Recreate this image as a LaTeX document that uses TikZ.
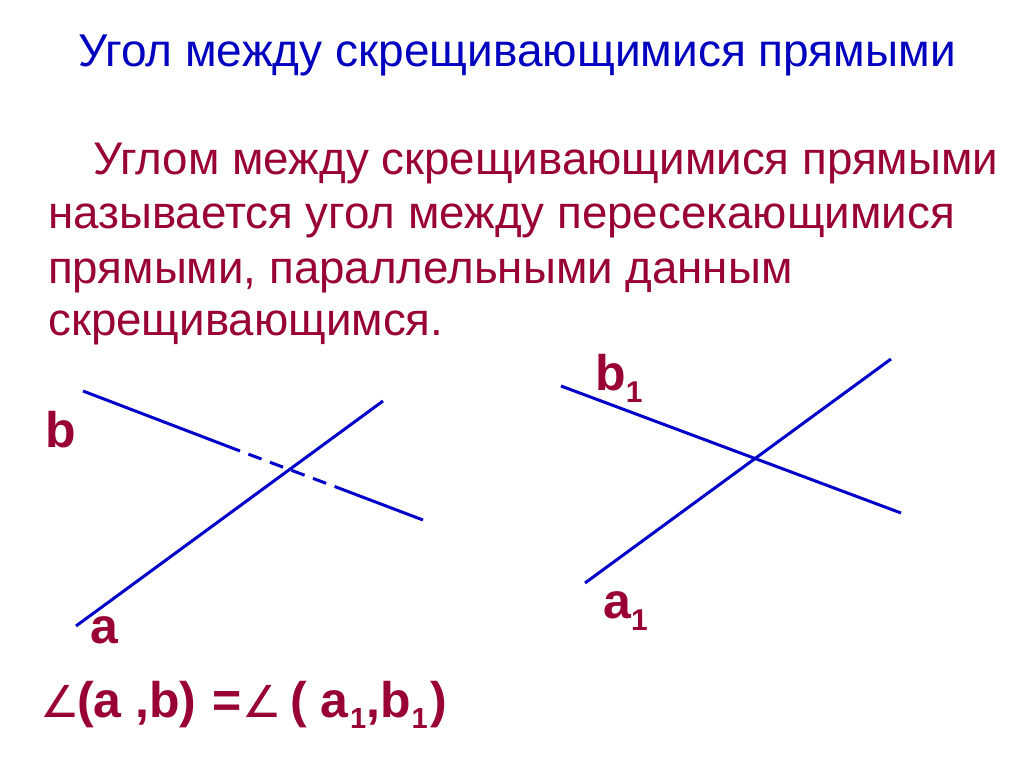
\documentclass[tikz,border=0pt]{standalone}
\usepackage{fontspec}
\setmainfont{Liberation Sans}
\newfontfamily\symfont{DejaVu Sans}
\definecolor{titleblue}{RGB}{0,0,190}
\definecolor{textred}{RGB}{153,0,51}
\definecolor{lineblue}{RGB}{0,0,200}
\begin{document}
\begin{tikzpicture}[x=1pt,y=-1pt,
  titletext/.style={anchor=base west,inner sep=0pt,text=titleblue,font=\fontsize{46}{50}\selectfont},
  bodytext/.style={anchor=base west,inner sep=0pt,text=textred,font=\fontsize{45.7}{54}\selectfont},
  lbl/.style={anchor=base west,inner sep=0pt,text=textred,font=\fontsize{50}{56}\selectfont\bfseries},
  formula/.style={anchor=base west,inner sep=0pt,text=textred,font=\fontsize{50}{54}\selectfont\bfseries},
  angsty/.style={anchor=base west,inner sep=0pt,text=textred,font=\symfont\fontsize{44}{50}\selectfont},
  ln/.style={draw=lineblue,line width=3pt},
  dashln/.style={draw=lineblue,line width=3pt,dash pattern=on 14pt off 9pt,dash phase=14pt}]
\fill[white] (0,0) rectangle (1024,767);
\useasboundingbox (0,0) rectangle (1024,767);
\newcommand{\subone}{\raisebox{-12pt}{\fontsize{30}{30}\selectfont 1}}
\newcommand{\fsub}{\raisebox{-11pt}{\fontsize{29}{29}\selectfont 1}}
% texts
\node[titletext] (title) at (78,67) {Угол между скрещивающимися прямыми};
\node[bodytext] (l1) at (93,175) {Углом между скрещивающимися прямыми};
\node[bodytext] (l2) at (48,229) {называется угол между пересекающимися};
\node[bodytext] (l3) at (48,283) {прямыми, параллельными данным};
\node[bodytext] (l4) at (48,335) {скрещивающимся.};
% left lines
\coordinate (bS) at (83,391);
\coordinate (bP1) at (240,451);
\coordinate (bP2) at (336,487);
\coordinate (bE) at (423,520);
\coordinate (aS) at (76,626);
\coordinate (aE) at (383,401);
\path[ln] (bS) -- (bP1);
\path[dashln] (bP1) -- (bP2);
\path[ln] (bP2) -- (bE);
\path[ln] (aS) -- (aE);
% right lines
\coordinate (b1S) at (561,386);
\coordinate (b1E) at (901,513);
\coordinate (a1S) at (585,583);
\coordinate (a1E) at (891,359);
\path[ln] (b1S) -- (b1E);
\path[ln] (a1S) -- (a1E);
% labels
\node[lbl] (lb) at (45,447) {b};
\node[lbl] (la) at (90,643) {a};
\node[lbl] (lb1) at (595,390) {b\subone};
\node[lbl] (la1) at (603,618) {a\subone};
% formula
\node[angsty] (ang1) at (40,717) {∠};
\node[formula] (eqA) at (77,717) {(a ,b)};
\node[formula] (eqEq) at (212,717) {=};
\node[angsty] (ang2) at (242,717) {∠};
\node[formula] (eqB) at (290,717) {( a\kern1.5pt\fsub,b\kern1pt\fsub\kern3pt)};
\end{tikzpicture}
\end{document}
